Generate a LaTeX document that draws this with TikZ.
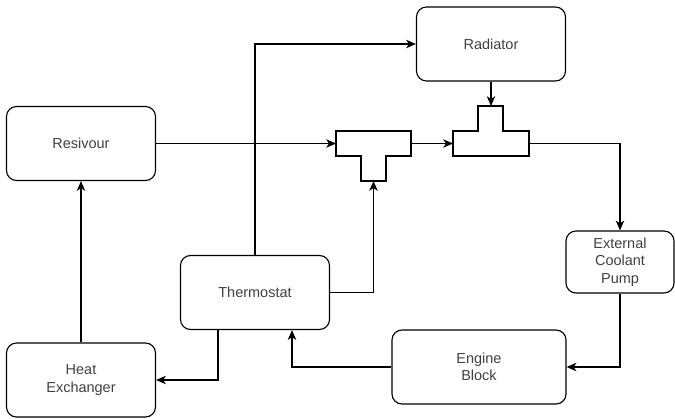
\documentclass[tikz,border=0pt]{standalone}
\usepackage{fontspec}
\setmainfont{Liberation Sans}
\usetikzlibrary{arrows.meta,calc}

\begin{document}
\begin{tikzpicture}[
    x=0.025cm, y=-0.025cm,
    block/.style={draw, rectangle, rounded corners=0.25cm, line width=0.8pt, align=center,
        text=black!75, font=\fontsize{10.3}{12.4}\selectfont,
        minimum width=3.725cm, minimum height=1.85cm},
    smallblock/.style={block, minimum width=2.7cm, minimum height=1.55cm},
    wideblock/.style={block, minimum width=4.35cm},
    pipe/.style={draw, line width=0.8pt},
    arrow/.style={-{Stealth[length=7pt,width=6pt,inset=2pt]}, line width=0.8pt}
]
\useasboundingbox (0,0) rectangle (675,419);

\node[block] (res) at (81,143.5) {Resivour};
\node[block] (hx) at (81,380) {Heat\\Exchanger};
\node[block] (thermo) at (255,292.5) {Thermostat};
\node[block] (rad) at (491,44) {Radiator};
\node[smallblock] (pump) at (620,262) {External\\Coolant\\Pump};
\node[wideblock] (engine) at (479,367) {Engine\\Block};

% tee pieces
\draw[pipe] (336,131) -- (411,131) -- (411,156) -- (386,156) -- (386,181)
    -- (361,181) -- (361,156) -- (336,156) -- cycle;
\coordinate (t1w) at (336,143.5);
\coordinate (t1e) at (411,143.5);
\coordinate (t1s) at (373.5,181);
\draw[pipe] (453,131) -- (478,131) -- (478,106) -- (503,106) -- (503,131)
    -- (529,131) -- (529,156) -- (453,156) -- cycle;
\coordinate (t2w) at (453,143.5);
\coordinate (t2e) at (529,143.5);
\coordinate (t2n) at (490.5,106);

\draw[arrow] (res.east) -- (t1w);
\draw[arrow] (t1e) -- (t2w);
\draw[arrow] (rad.south) -- (rad.south |- t2n);
\draw[arrow] (t2e) -| (pump.north);
\draw[arrow] (pump.south) |- (engine.east);
\draw[arrow] (engine.west) -| ($(thermo.south)+(37,0)$);
\draw[arrow] ($(thermo.south)+(-37,0)$) |- (hx.east);
\draw[arrow] (thermo.north) |- (rad.west);
\draw[arrow] (thermo.east) -| (t1s);
\draw[arrow] (hx.north) -- (res.south);
\end{tikzpicture}
\end{document}
